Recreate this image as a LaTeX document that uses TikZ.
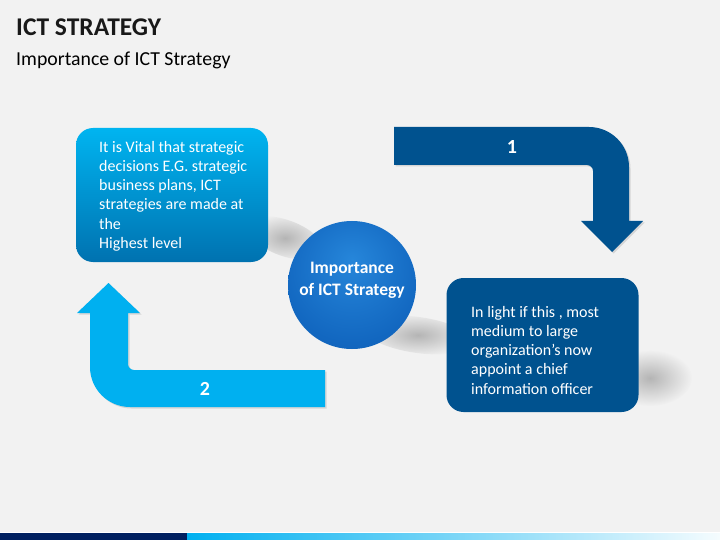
\documentclass[tikz,border=0pt]{standalone}
\usepackage{fontspec}
\setmainfont{Carlito}
\usetikzlibrary{shadows,fadings}

\definecolor{bgrey}{HTML}{F2F2F2}
\definecolor{deepblue}{HTML}{00528F}
\definecolor{sky}{HTML}{00B0F0}
\definecolor{boxtop}{HTML}{00B4F0}
\definecolor{boxbot}{HTML}{0072B0}
\definecolor{barnavy}{HTML}{002060}
\definecolor{barA}{HTML}{0070C0}
\definecolor{barB}{HTML}{00B0F0}
\definecolor{barC}{HTML}{3C9AD8}
\definecolor{orbA}{HTML}{2686DA}
\definecolor{orbB}{HTML}{1267C0}
\definecolor{orbC}{HTML}{0954A2}
\definecolor{orbD}{HTML}{186EC2}

\pgfdeclareradialshading{orb}{\pgfpoint{0bp}{10bp}}{color(0bp)=(orbA); color(28bp)=(orbB); color(55bp)=(orbC); color(62bp)=(orbD)}
\pgfdeclarehorizontalshading{barfade}{100bp}{color(0bp)=(barA); color(25bp)=(barB); color(77bp)=(white); color(100bp)=(barC)}
\tikzfading[name=haze, inner color=transparent!40, outer color=transparent!100]

\begin{document}
\begin{tikzpicture}[x=1pt,y=-1pt,
	boxstyle/.style={rounded corners=17pt, minimum width=192pt, minimum height=134pt, inner sep=0pt},
	txtstyle/.style={text=white, align=left, anchor=north west, inner sep=0pt, font=\fontsize{16}{19.2}\selectfont},
	numstyle/.style={text=white, inner sep=0pt, font=\bfseries\fontsize{20}{24}\selectfont},
	arrowstyle/.style={drop shadow={opacity=0.25, shadow xshift=1.5pt, shadow yshift=-1.5pt}},
	hazestyle/.style={fill=black!45, path fading=haze}
	]
	\useasboundingbox (0,0) rectangle (720,540);
	\fill[bgrey] (0,0) rectangle (720,540);
	
	\node[anchor=base west, inner sep=0pt, text=black!90, font=\bfseries\fontsize{25.5}{30}\selectfont] (title) at (16,36) {ICT STRATEGY};
	\node[anchor=base west, inner sep=0pt, font=\fontsize{19.8}{24}\selectfont] (subtitle) at (16,66) {Importance of ICT Strategy};
	
	% soft shadows
	\fill[hazestyle, rotate around={-20:(285,238)}] (285,238) ellipse [x radius=40, y radius=18];
	\fill[hazestyle, rotate around={-8:(418,335)}] (418,335) ellipse [x radius=55, y radius=18];
	\fill[hazestyle] (650,378) ellipse [x radius=42, y radius=28];
	
	\node[boxstyle, top color=boxtop, bottom color=boxbot] (vital) at (172,195) {};
	\node[boxstyle, fill=deepblue] (light) at (542.5,345) {};
	\node[txtstyle] (vitaltxt) at (99,141) {It is Vital that strategic\\decisions E.G. strategic\\business plans, ICT\\strategies are made at\\the\\Highest level};
	\node[txtstyle] (lighttxt) at (471,306) {In light if this , most\\medium to large\\organization’s now\\appoint a chief\\information officer};
	
	\node[circle, shade, shading=orb, minimum size=128pt, inner sep=0pt] (core) at (352,285) {};
	\node[text=white, align=center, inner sep=0pt, font=\bfseries\fontsize{17.5}{22}\selectfont] (coretxt) at ([yshift=5pt]core.center) {Importance\\of ICT Strategy};
	
	% arrow 1
	\fill[deepblue, arrowstyle] (394,127) -- (589,127) .. controls (611.1,127) and (629,144.9) .. (629,167) -- (629,221) -- (643,221) -- (612,252) -- (581,221) -- (593,221) -- (593,171) .. controls (593,167.7) and (590.3,165) .. (587,165) -- (394,165) -- cycle;
	\node[numstyle] (one) at (512,147) {1};
	
	% arrow 2
	\fill[sky, arrowstyle] (325,370) -- (134,370) .. controls (130.7,370) and (128,367.3) .. (128,364) -- (128,313) -- (140,313) -- (108.5,283) -- (77,313) -- (90,313) -- (90,367) .. controls (90,389.1) and (107.9,407) .. (130,407) -- (325,407) -- cycle;
	\node[numstyle] (two) at (205,389) {2};
	
	% bottom bar
	\fill[white] (0,531.5) rectangle (720,533);
	\fill[barnavy] (0,533) rectangle (187,540);
	\shade[shading=barfade] (187,533) rectangle (720,540);
\end{tikzpicture}
\end{document}
